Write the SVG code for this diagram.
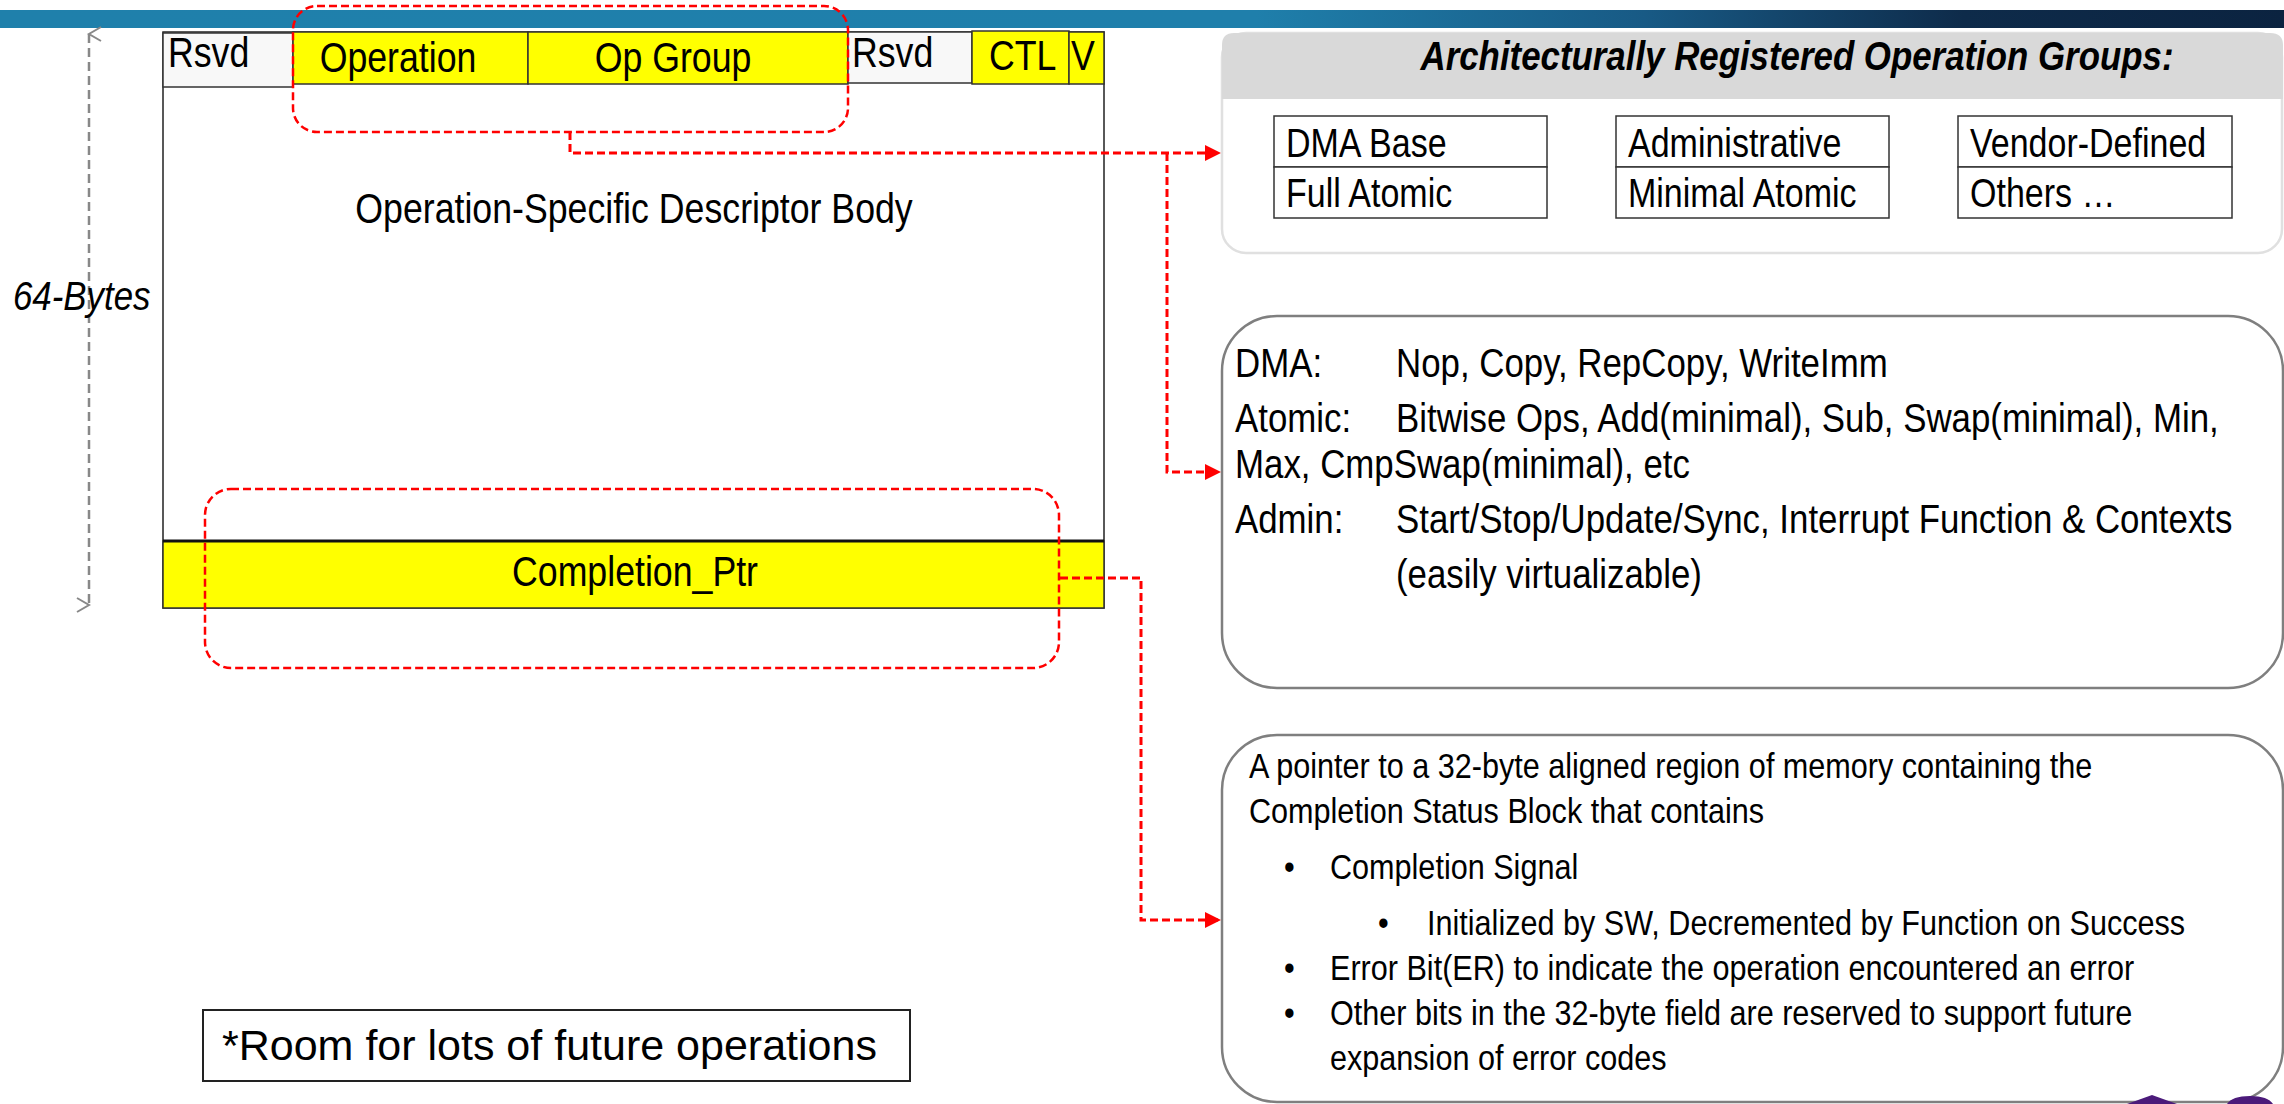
<svg xmlns="http://www.w3.org/2000/svg" width="2284" height="1104" viewBox="0 0 2284 1104">
  <style>
    .t { font-family: "Liberation Sans", Arial, sans-serif; fill: #000; }
    .lbl { font-size: 42px; }
    .body { font-size: 41px; }
    .note { font-size: 36px; }
    .grp { font-size: 40px; }
    .cell { stroke: #333; stroke-width: 1.5; }
    .yel { fill: #ffff00; }
    .rsv { fill: #f8f8f8; }
    .sel { fill: none; stroke: #ff0000; stroke-width: 2.5; stroke-dasharray: 8 4; }
    .conn { fill: none; stroke: #ff0000; stroke-width: 3; stroke-dasharray: 8 4; }
    .panel { fill: #fff; stroke: #7f7f7f; stroke-width: 2.5; }
    .gbox { fill: #fff; stroke: #333; stroke-width: 1.5; }
  </style>
  <defs>
    <linearGradient id="bannerGrad" x1="0" y1="0" x2="1" y2="0">
      <stop offset="0" stop-color="#1f80ab"/>
      <stop offset="0.55" stop-color="#1f7fab"/>
      <stop offset="0.72" stop-color="#185a85"/>
      <stop offset="0.86" stop-color="#0e2b4a"/>
      <stop offset="1" stop-color="#0b2340"/>
    </linearGradient>
    <marker id="redArrow" markerWidth="16" markerHeight="16" refX="15" refY="8" orient="auto" markerUnits="userSpaceOnUse">
      <path d="M0,0 L16,8 L0,16 Z" fill="#ff0000"/>
    </marker>
    <marker id="grayChevron" markerWidth="20" markerHeight="20" refX="10" refY="2" orient="auto-start-reverse" markerUnits="userSpaceOnUse">
      <path d="M3,14 L10,2 L17,14" fill="none" stroke="#888" stroke-width="2"/>
    </marker>
  </defs>

  <!-- title banner -->
  <rect x="0" y="10" width="2284" height="18" fill="url(#bannerGrad)"/>

  <!-- 64-byte descriptor layout; labels use a condensed face (horizontal scale 0.85) -->
  <g id="descriptor">
    <rect x="163" y="32" width="941" height="576" fill="#fff" stroke="#222" stroke-width="1.5"/>
    <rect class="cell rsv" x="163" y="33" width="130" height="54"/>
    <rect class="cell yel" x="293" y="32" width="235" height="52"/>
    <rect class="cell yel" x="528" y="32" width="320" height="52"/>
    <rect class="cell rsv" x="848" y="32" width="124" height="51"/>
    <rect class="cell yel" x="972" y="31" width="97" height="53"/>
    <rect class="cell yel" x="1069" y="32" width="35" height="52"/>
    <text class="t lbl" transform="translate(168,67) scale(0.85,1)">Rsvd</text>
    <text class="t lbl" transform="translate(398,72) scale(0.85,1)" text-anchor="middle">Operation</text>
    <text class="t lbl" transform="translate(673,72) scale(0.85,1)" text-anchor="middle">Op Group</text>
    <text class="t lbl" transform="translate(852,67) scale(0.85,1)">Rsvd</text>
    <text class="t lbl" transform="translate(989,70) scale(0.85,1)">CTL</text>
    <text class="t lbl" transform="translate(1071,70) scale(0.85,1)">V</text>
    <text class="t lbl" transform="translate(634,223) scale(0.85,1)" text-anchor="middle">Operation-Specific Descriptor Body</text>
    <rect class="yel" x="163" y="541" width="941" height="67" stroke="#333" stroke-width="1.5"/>
    <line x1="163" y1="541" x2="1104" y2="541" stroke="#111" stroke-width="3"/>
    <text class="t lbl" transform="translate(635,586) scale(0.85,1)" text-anchor="middle">Completion_Ptr</text>
  </g>

  <!-- size dimension -->
  <g id="size-dimension">
    <line x1="89" y1="34" x2="89" y2="605" stroke="#888" stroke-width="2.5" stroke-dasharray="9 5" marker-start="url(#grayChevron)" marker-end="url(#grayChevron)"/>
    <text class="t" transform="translate(13,310) scale(0.85,1)" font-size="41" font-style="italic">64-Bytes</text>
  </g>

  <!-- highlighted field groups -->
  <g id="op-fields-highlight">
    <rect class="sel" x="293" y="6" width="555" height="126" rx="24"/>
  </g>
  <g id="completion-highlight">
    <rect class="sel" x="205" y="489" width="854" height="179" rx="26"/>
  </g>

  <!-- connectors -->
  <g id="connectors">
    <path class="conn" d="M570,132 V153 H1220" marker-end="url(#redArrow)"/>
    <path class="conn" d="M1167,153 V472 H1220" marker-end="url(#redArrow)"/>
    <path class="conn" d="M1060,578 H1141 V920 H1220" marker-end="url(#redArrow)"/>
  </g>

  <!-- registered operation groups -->
  <g id="op-groups">
    <rect x="1222" y="33" width="1060" height="220" rx="24" fill="#fff" stroke="#e0e0e0" stroke-width="2.5"/>
    <path d="M1222,99 V45 Q1222,33 1234,33 H2270 Q2283,33 2283,45 V99 Z" fill="#d9d9d9"/>
    <text class="t" transform="translate(1797,70) scale(0.85,1)" font-size="41" font-weight="bold" font-style="italic" text-anchor="middle">Architecturally Registered Operation Groups:</text>
    <rect class="gbox" x="1274" y="116" width="273" height="51"/>
    <rect class="gbox" x="1274" y="167" width="273" height="51"/>
    <rect class="gbox" x="1616" y="116" width="273" height="51"/>
    <rect class="gbox" x="1616" y="167" width="273" height="51"/>
    <rect class="gbox" x="1958" y="116" width="274" height="51"/>
    <rect class="gbox" x="1958" y="167" width="274" height="51"/>
    <text class="t grp" transform="translate(1286,157) scale(0.85,1)">DMA Base</text>
    <text class="t grp" transform="translate(1286,207) scale(0.85,1)">Full Atomic</text>
    <text class="t grp" transform="translate(1628,157) scale(0.85,1)">Administrative</text>
    <text class="t grp" transform="translate(1628,207) scale(0.85,1)">Minimal Atomic</text>
    <text class="t grp" transform="translate(1970,157) scale(0.85,1)">Vendor-Defined</text>
    <text class="t grp" transform="translate(1970,207) scale(0.85,1)">Others …</text>
  </g>

  <!-- operation list -->
  <g id="op-list">
    <rect class="panel" x="1222" y="316" width="1061" height="372" rx="55"/>
    <text class="t body" transform="translate(1235,377) scale(0.85,1)">DMA:</text>
    <text class="t body" transform="translate(1396,377) scale(0.85,1)">Nop, Copy, RepCopy, WriteImm</text>
    <text class="t body" transform="translate(1235,432) scale(0.85,1)">Atomic:</text>
    <text class="t body" transform="translate(1396,432) scale(0.85,1)">Bitwise Ops, Add(minimal), Sub, Swap(minimal), Min,</text>
    <text class="t body" transform="translate(1235,478) scale(0.85,1)">Max, CmpSwap(minimal), etc</text>
    <text class="t body" transform="translate(1235,533) scale(0.85,1)">Admin:</text>
    <text class="t body" transform="translate(1396,533) scale(0.85,1)">Start/Stop/Update/Sync, Interrupt Function &amp; Contexts</text>
    <text class="t body" transform="translate(1396,588) scale(0.85,1)">(easily virtualizable)</text>
  </g>

  <!-- completion status description -->
  <g id="completion-status">
    <rect class="panel" x="1222" y="735" width="1061" height="367" rx="55"/>
    <text class="t note" transform="translate(1249,778) scale(0.85,1)">A pointer to a 32-byte aligned region of memory containing the</text>
    <text class="t note" transform="translate(1249,823) scale(0.85,1)">Completion Status Block that contains</text>
    <text class="t note" transform="translate(1284,879) scale(0.85,1)">•</text>
    <text class="t note" transform="translate(1330,879) scale(0.85,1)">Completion Signal</text>
    <text class="t note" transform="translate(1378,935) scale(0.85,1)">•</text>
    <text class="t note" transform="translate(1427,935) scale(0.85,1)">Initialized by SW, Decremented by Function on Success</text>
    <text class="t note" transform="translate(1284,980) scale(0.85,1)">•</text>
    <text class="t note" transform="translate(1330,980) scale(0.85,1)">Error Bit(ER) to indicate the operation encountered an error</text>
    <text class="t note" transform="translate(1284,1025) scale(0.85,1)">•</text>
    <text class="t note" transform="translate(1330,1025) scale(0.85,1)">Other bits in the 32-byte field are reserved to support future</text>
    <text class="t note" transform="translate(1330,1070) scale(0.85,1)">expansion of error codes</text>
  </g>

  <!-- footnote -->
  <g id="footnote">
    <rect x="203" y="1010" width="707" height="71" fill="#fff" stroke="#222" stroke-width="2"/>
    <text class="t" x="222" y="1060" font-size="43">*Room for lots of future operations</text>
  </g>

  <!-- corner ornament -->
  <g id="corner-mark" fill="#4b1a7a">
    <path d="M2127,1104 L2152,1095 L2177,1104 Z"/>
    <path d="M2227,1104 Q2232,1096 2250,1096 Q2268,1096 2273,1104 Z"/>
  </g>
</svg>
